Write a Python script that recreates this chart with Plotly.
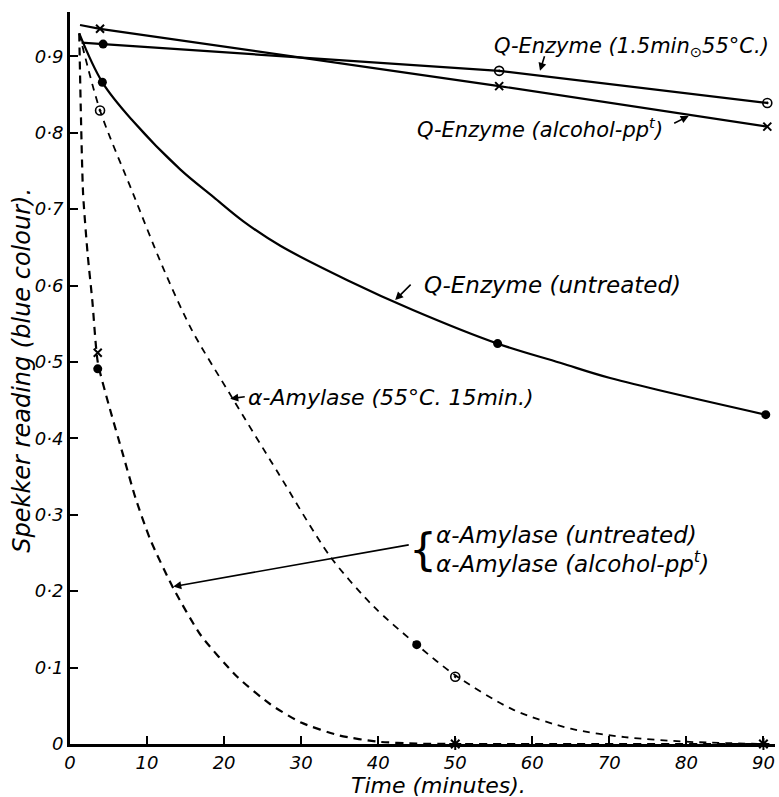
import plotly.graph_objects as go

# ---- data ----
# smooth curves
q_untreated_t = [1.2, 4.2, 8.2, 14.3, 18.6, 22.5, 27.3, 36.0, 44.5, 55.5, 63.6, 70.1, 90.3]
q_untreated_v = [0.930, 0.866, 0.815, 0.752, 0.716, 0.684, 0.652, 0.607, 0.568, 0.524, 0.499, 0.479, 0.431]

q_heat_t = [1.5, 4.3, 55.7, 90.5]
q_heat_v = [0.918, 0.916, 0.881, 0.839]

q_alc_t = [1.3, 3.9, 55.7, 90.5]
q_alc_v = [0.941, 0.936, 0.861, 0.808]

amy_heat_t = [1.2, 3.9, 8.2, 12.0, 15.8, 21.0, 27.0, 33.8, 39.4, 45.0, 50.0, 57.5, 65.0, 72.0, 80.0, 90.0]
amy_heat_v = [0.930, 0.829, 0.720, 0.625, 0.542, 0.454, 0.355, 0.245, 0.180, 0.130, 0.090, 0.045, 0.020, 0.009, 0.003, 0.0]

amy_fast_t = [1.2, 1.4, 1.7, 2.3, 2.9, 3.6, 5.0, 6.9, 8.5, 10.4, 13.4, 17.0, 21.7, 26.0, 30.0, 35.0, 40.0, 45.0, 50.0, 90.0]
amy_fast_v = [0.930, 0.830, 0.720, 0.640, 0.580, 0.500, 0.445, 0.378, 0.322, 0.268, 0.204, 0.142, 0.088, 0.052, 0.028, 0.011, 0.003, 0.0005, 0.0, 0.0]

# measured points
dots_t = [4.3, 4.2, 55.5, 90.3, 45.0, 3.6]
dots_v = [0.916, 0.866, 0.524, 0.431, 0.130, 0.491]
circ_t = [55.7, 90.5, 3.9, 50.0]
circ_v = [0.881, 0.839, 0.829, 0.088]
cross_t = [3.9, 55.7, 90.5, 3.6]
cross_v = [0.936, 0.861, 0.808, 0.512]
star_t = [50.0, 90.0]
star_v = [0.0, 0.0]

x_ticks = [0, 10, 20, 30, 40, 50, 60, 70, 80, 90]
y_ticks = [0, 0.1, 0.2, 0.3, 0.4, 0.5, 0.6, 0.7, 0.8, 0.9]
y_ticktext = ["0", "0·1", "0·2", "0·3", "0·4", "0·5", "0·6", "0·7", "0·8", "0·9"]

FONT = "DejaVu Sans"
INK = "black"

fig = go.Figure()
line_solid = dict(color=INK, width=2.2)
fig.add_trace(go.Scatter(x=q_untreated_t, y=q_untreated_v, mode="lines",
                         line=dict(color=INK, width=2.2, shape="spline", smoothing=1.0)))
fig.add_trace(go.Scatter(x=q_heat_t, y=q_heat_v, mode="lines", line=line_solid))
fig.add_trace(go.Scatter(x=q_alc_t, y=q_alc_v, mode="lines", line=line_solid))
fig.add_trace(go.Scatter(x=amy_heat_t, y=amy_heat_v, mode="lines",
                         line=dict(color=INK, width=1.8, dash="7px,6px", shape="spline", smoothing=0.8)))
fig.add_trace(go.Scatter(x=amy_fast_t, y=amy_fast_v, mode="lines",
                         line=dict(color=INK, width=2.2, dash="8px,6px", shape="spline", smoothing=0.6)))

fig.add_trace(go.Scatter(x=dots_t, y=dots_v, mode="markers",
                         marker=dict(symbol="circle", size=9, color=INK)))
fig.add_trace(go.Scatter(x=circ_t, y=circ_v, mode="markers",
                         marker=dict(symbol="circle-open-dot", size=9, color=INK, line=dict(width=1.6, color=INK))))
fig.add_trace(go.Scatter(x=cross_t, y=cross_v, mode="markers",
                         marker=dict(symbol="x-thin-open", size=8, line=dict(width=2, color=INK), color=INK)))
fig.add_trace(go.Scatter(x=star_t, y=star_v, mode="markers", cliponaxis=False,
                         marker=dict(symbol="asterisk-open", size=10, line=dict(width=2, color=INK), color=INK)))


def lab_font(size):
    return dict(family=FONT, size=size, color=INK, style="italic")


anns = [
    (72.9, 0.912, "Q-Enzyme (1.5min<sub>⊙</sub>55°C.)", 21, "center"),
    (61.0, 0.806, "Q-Enzyme (alcohol-pp<sup>t</sup>)", 21, "center"),
    (62.6, 0.601, "Q-Enzyme (untreated)", 23, "center"),
    (41.6, 0.453, "α-Amylase (55°C. 15min.)", 22, "center"),
    (47.3, 0.273, "α-Amylase (untreated)", 23, "left"),
    (47.3, 0.238, "α-Amylase (alcohol-pp<sup>t</sup>)", 23, "left"),
]
for (x, y, text, size, anchor) in anns:
    fig.add_annotation(x=x, y=y, xref="x", yref="y", text=text, xanchor=anchor,
                       yanchor="middle", showarrow=False, font=lab_font(size))
# brace
fig.add_annotation(x=45.8, y=0.254, xref="x", yref="y", text="{", showarrow=False,
                   font=dict(family=FONT, size=44, color=INK), xanchor="center", yanchor="middle")

arrows = [
    (61.0, 0.881, 5, -16),
    (80.3, 0.822, -16, 8),
    (42.2, 0.581, 17, -17),
    (20.8, 0.452, 16, -2),
    (13.4, 0.206, 237, -42),
]
for (x, y, ax, ay) in arrows:
    fig.add_annotation(x=x, y=y, xref="x", yref="y", ax=ax, ay=ay, text="",
                       showarrow=True, arrowhead=2, arrowsize=1, arrowwidth=1.6,
                       arrowcolor=INK)

# axis titles
fig.add_annotation(x=-0.068, y=0.51, xref="paper", yref="paper", textangle=-90,
                   xanchor="center", yanchor="middle",
                   text="Spekker reading (blue colour).", showarrow=False,
                   font=dict(family=FONT, size=24, color=INK, style="italic"))
fig.add_annotation(x=0.522, y=-0.057, xref="paper", yref="paper",
                   xanchor="center", yanchor="middle",
                   text="Time (minutes).", showarrow=False,
                   font=dict(family=FONT, size=22, color=INK, style="italic"))

tick_font = dict(family=FONT, size=18, color=INK, style="italic")
fig.update_xaxes(range=[0, 91.5], tickvals=x_ticks, ticks="inside", ticklen=8, tickwidth=2,
                 tickcolor=INK, showline=True, linecolor=INK, linewidth=3, showgrid=False,
                 zeroline=False, tickfont=tick_font, automargin=False)
fig.update_yaxes(range=[0, 0.958], tickvals=y_ticks, ticktext=y_ticktext, ticks="inside",
                 ticklen=8, tickwidth=2, tickcolor=INK, showline=True, linecolor=INK,
                 linewidth=3, showgrid=False, zeroline=False, tickfont=tick_font,
                 automargin=False)
fig.update_layout(width=779, height=797, showlegend=False,
                  margin=dict(l=70, r=4, t=12, b=53),
                  plot_bgcolor="white", paper_bgcolor="white")
fig.write_html("out.html", config={"displayModeBar": False},
               post_script="document.body.style.margin='0';document.body.style.padding='0';")
